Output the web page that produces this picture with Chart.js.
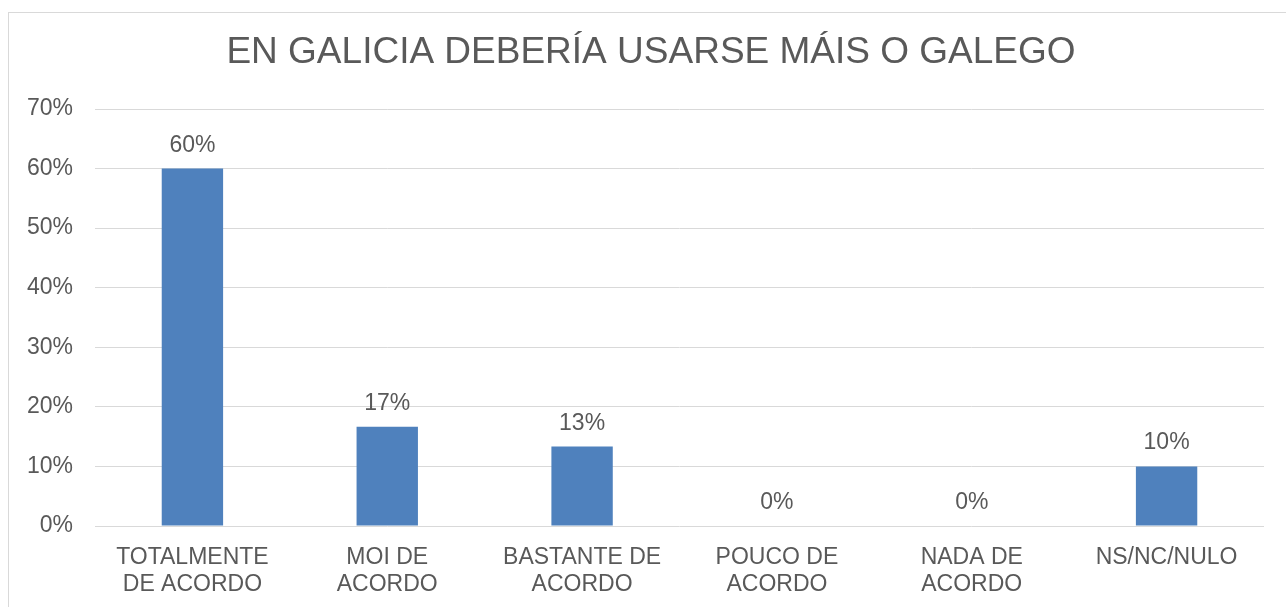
<!DOCTYPE html>
<html>
<head>
<meta charset="utf-8">
<script src="https://cdn.jsdelivr.net/npm/chart.js@4/dist/chart.umd.min.js"></script>
<style>
  html, body { margin: 0; padding: 0; background: #fff; overflow: hidden; }
  #frame { position: absolute; left: 8px; top: 12px; width: 1300px; height: 620px; border: 1px solid #d9d9d9; }
  #chart { position: absolute; left: 0; top: 0; }
</style>
</head>
<body>
<div id="frame"></div>
<canvas id="chart" width="1286" height="607"></canvas>
<script>
const titleText = 'EN GALICIA DEBERÍA USARSE MÁIS O GALEGO';
const categories = [
    ['TOTALMENTE', 'DE ACORDO'],
    ['MOI DE', 'ACORDO'],
    ['BASTANTE DE', 'ACORDO'],
    ['POUCO DE', 'ACORDO'],
    ['NADA DE', 'ACORDO'],
    'NS/NC/NULO'
];
const shares = [0.6, 0.1667, 0.1333, 0, 0, 0.1];
const yTicks = [0, 0.1, 0.2, 0.3, 0.4, 0.5, 0.6, 0.7];

const textColor = '#595959';
const fontFamily = '"Liberation Sans", Arial, sans-serif';

const pct = v => Math.round(v * 100) + '%';

// value labels above the bars
const barLabels = {
    id: 'barLabels',
    afterDatasetsDraw(chart) {
        const ctx = chart.ctx;
        const meta = chart.getDatasetMeta(0);
        ctx.save();
        ctx.font = '23px ' + fontFamily;
        ctx.fillStyle = textColor;
        ctx.textAlign = 'center';
        ctx.textBaseline = 'alphabetic';
        meta.data.forEach((bar, i) => {
            ctx.fillText(pct(shares[i]), bar.x, bar.y - 17);
        });
        ctx.restore();
    }
};

// title is centred on the whole frame, not the plot, so draw it here
const frameTitle = {
    id: 'frameTitle',
    afterDraw(chart) {
        const ctx = chart.ctx;
        ctx.save();
        ctx.font = '37px ' + fontFamily;
        ctx.fillStyle = textColor;
        ctx.textAlign = 'center';
        ctx.textBaseline = 'middle';
        ctx.fillText(titleText, 651, 53);
        ctx.restore();
    }
};

new Chart(document.getElementById('chart').getContext('2d'), {
    type: 'bar',
    data: {
        labels: categories,
        datasets: [{
            data: shares,
            backgroundColor: '#4f81bd',
            borderWidth: 0,
            categoryPercentage: 1,
            barPercentage: 0.315
        }]
    },
    options: {
        responsive: false,
        animation: false,
        layout: { padding: { left: 0, right: 22, top: 109, bottom: 0 } },
        plugins: {
            legend: { display: false },
            tooltip: { enabled: false },
            title: { display: false }
        },
        scales: {
            x: {
                grid: { display: false },
                border: { display: false },
                ticks: {
                    color: textColor,
                    font: { family: fontFamily, size: 23, lineHeight: 1.18 },
                    padding: 10,
                    maxRotation: 0,
                    autoSkip: false
                },
                afterFit(scale) { scale.height = 81; }
            },
            y: {
                min: 0,
                max: 0.7,
                afterBuildTicks(scale) { scale.ticks = yTicks.map(v => ({ value: v })); },
                grid: { color: '#d9d9d9', lineWidth: 1, drawTicks: false },
                border: { display: false },
                ticks: {
                    color: textColor,
                    font: { family: fontFamily, size: 23 },
                    padding: 22,
                    callback: v => pct(v)
                },
                afterFit(scale) { scale.width = 95; }
            }
        }
    },
    plugins: [barLabels, frameTitle]
});
</script>
</body>
</html>
